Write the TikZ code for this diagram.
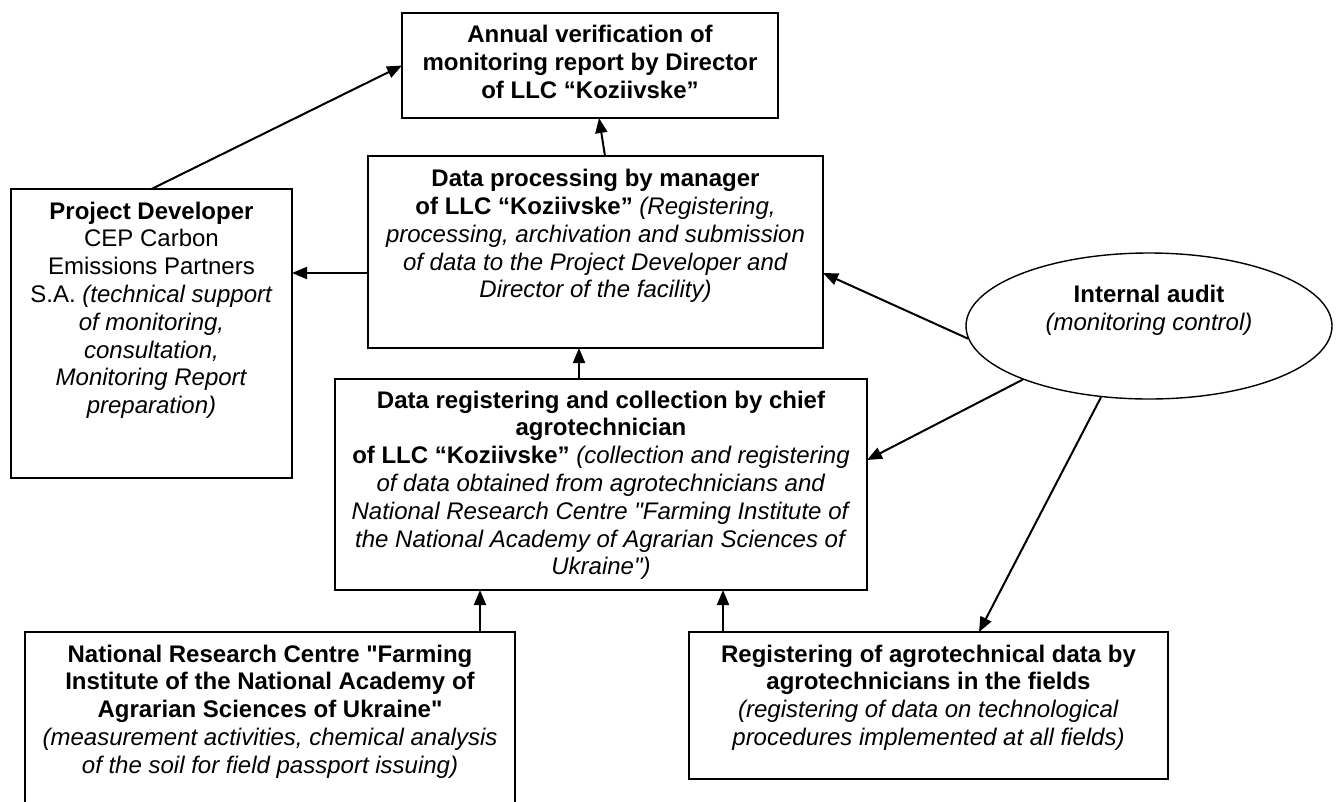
\documentclass[tikz,border=0pt]{standalone}
\usepackage{fontspec}
\setmainfont{Liberation Sans}[Ligatures=TeXOff]
\usetikzlibrary{arrows.meta,shapes.geometric}
\begin{document}
\begin{tikzpicture}[x=1pt,y=-1pt,
  box/.style={draw, line width=1.6pt, rectangle, inner sep=0pt, outer sep=0pt, anchor=north west},
  txt/.style={font=\fontsize{24}{27.8}\selectfont, align=center, inner sep=0pt, anchor=north},
  arr/.style={line width=2pt, -{Triangle[length=15pt,width=12pt]}}
]
\useasboundingbox (0,0) rectangle (1338,801);
\fill[white] (0,0) rectangle (1338,801);

% boxes
\node[box, minimum width=376pt, minimum height=105pt] (verify) at (402,13) {};
\node[box, minimum width=281pt, minimum height=289pt] (pd) at (11,189) {};
\node[box, minimum width=455pt, minimum height=192pt] (proc) at (368,156) {};
\node[box, minimum width=532pt, minimum height=211pt] (chief) at (335,379) {};
\node[box, minimum width=490pt, minimum height=220pt] (nrc) at (25,632) {};
\node[box, minimum width=479pt, minimum height=147pt] (reg) at (689,632) {};
\node[draw, ellipse, line width=1.4pt, minimum width=366pt, minimum height=146pt, inner sep=0pt] (audit) at (1149,326) {};

% texts
\node[txt] (verify-t) at (590,23.2) {\strut\textbf{Annual verification of}\\\textbf{monitoring report by Director}\\\textbf{of LLC “Koziivske”}};
\node[txt] (pd-t) at (151.5,199.5) {\strut\textbf{Project Developer}\\CEP Carbon\\Emissions Partners\\S.A. \textit{(technical support}\\\textit{of monitoring,}\\\textit{consultation,}\\\textit{Monitoring Report}\\\textit{preparation)}};
\node[txt] (proc-t) at (595.5,167) {\strut\textbf{Data processing by manager}\\\textbf{of LLC “Koziivske”} \textit{(Registering,}\\\textit{processing, archivation and submission}\\\textit{of data to the Project Developer and}\\\textit{Director of the facility)}};
\node[txt] (chief-t) at (601,388.5) {\strut\textbf{Data registering and collection by chief}\\\textbf{agrotechnician}\\\textbf{of LLC “Koziivske”} \textit{(collection and registering}\\\textit{of data obtained from agrotechnicians and}\\\textit{National Research Centre "Farming Institute of}\\\textit{the National Academy of Agrarian Sciences of}\\\textit{Ukraine")}};
\node[txt] (nrc-t) at (270,642.5) {\strut\textbf{National Research Centre "Farming}\\\textbf{Institute of the National Academy of}\\\textbf{Agrarian Sciences of Ukraine"}\\\textit{(measurement activities, chemical analysis}\\\textit{of the soil for field passport issuing)}};
\node[txt] (reg-t) at (928.5,642.5) {\strut\textbf{Registering of agrotechnical data by}\\\textbf{agrotechnicians in the fields}\\\textit{(registering of data on technological}\\\textit{procedures implemented at all fields)}};
\node[txt] (audit-t) at (1149,283) {\strut\textbf{Internal audit}\\\textit{(monitoring control)}};

% helper coordinates
\coordinate (procW) at ([yshift=-21pt]proc.west);
\coordinate (chiefN) at ([xshift=-22pt]chief.north);
\coordinate (nrcN) at ([xshift=455pt]nrc.north west);
\coordinate (regN) at ([xshift=34pt]reg.north west);

% connectors
\draw[arr] ([xshift=9.5pt]proc.north) -- ([xshift=9pt]verify.south);
\draw[arr] (pd.north) -- (verify.west);
\draw[arr] (procW) -- (procW -| pd.east);
\draw[arr] (chiefN) -- (chiefN |- proc.south);
\draw[arr] (nrcN) -- (nrcN |- chief.south);
\draw[arr] (regN) -- (regN |- chief.south);
\draw[arr] (audit.184) -- ([yshift=-21pt]proc.east);
\draw[arr] (audit.203) -- ([yshift=24.5pt]chief.east);
\draw[arr] (audit.236) -- ([xshift=50.5pt]reg.north);
\end{tikzpicture}
\end{document}
